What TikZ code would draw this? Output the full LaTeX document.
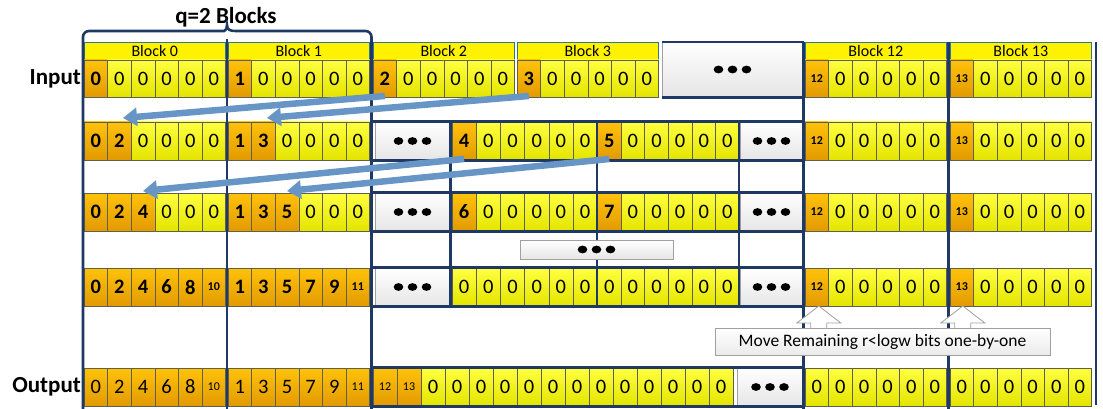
\documentclass[tikz,border=0pt]{standalone}
\usepackage{fontspec}
\setmainfont{Carlito}
\usetikzlibrary{arrows.meta,calc}
\definecolor{navy}{HTML}{1F3864}
\definecolor{cellgray}{HTML}{5F5F4F}
\definecolor{yelA}{HTML}{FFFF40}
\definecolor{yelB}{HTML}{E4E400}
\definecolor{orA}{HTML}{FFC20A}
\definecolor{orB}{HTML}{E29A00}
\definecolor{hdrline}{HTML}{2E7896}
\definecolor{arrowblue}{HTML}{6795C6}
\definecolor{boxgray}{HTML}{A0A0A0}
\newcommand\cellfont{\fontsize{20.5}{20.5}\selectfont}
\newcommand\smallcellfont{\fontsize{12}{12}\selectfont}
\newcommand\cellgroup[6]{%
  \foreach \kind/\val [count=\i from 0] in {#6} {
    \node[\kind, minimum height=#4, minimum width=#5] (#1-\i) at ({#2+(\i+0.5)*#5},{#3+#4/2}) {\val};
  }}
\newcommand\threedots[1]{%
  \foreach \dx in {-14,0,14} \fill ([xshift=\dx pt]#1.center) ellipse [x radius=4.8pt, y radius=3.9pt];}
\tikzset{
  cell/.style={draw=cellgray, line width=0.5pt, inner sep=0pt, outer sep=0pt},
  cY/.style={cell, top color=yelA, bottom color=yelB, font=\cellfont},
  cO/.style={cell, top color=orA, bottom color=orB, font=\cellfont\bfseries},
  cS/.style={cell, top color=orA, bottom color=orB, font=\smallcellfont\bfseries},
  cN/.style={cell, top color=orA, bottom color=orB, font=\cellfont},
  cM/.style={cell, top color=orA, bottom color=orB, font=\smallcellfont},
  hdr/.style={draw=hdrline, line width=0.8pt, fill=yellow, font=\fontsize{16}{16}\selectfont, minimum height=18, minimum width=141.6, inner sep=0pt},
  dbox/.style={draw=boxgray, line width=0.5pt, top color=white, bottom color=black!10, inner sep=0pt},
  lbl/.style={font=\fontsize{23}{23}\selectfont\bfseries, inner sep=0pt},
  navyline/.style={draw=navy, line width=2.6pt},
  barrow/.style={draw=arrowblue, line width=6.5pt, -{Triangle[length=14pt,width=18pt]}},
  uparrow/.style={draw=boxgray, fill=white, line width=0.8pt},
  movebox/.style={draw=boxgray, line width=0.8pt, top color=white, bottom color=black!8, minimum width=335, minimum height=27, inner sep=0pt, font=\fontsize{17.5}{17.5}\selectfont}
}
\begin{document}
\begin{tikzpicture}[x=1pt,y=-1pt]
\useasboundingbox (0,0) rectangle (1103,409);
% labels
\node[lbl] (qlbl) at (226,17) {q=2 Blocks};
\node[lbl, anchor=east] (inlbl) at (81,79) {Input};
\node[lbl, anchor=east] (outlbl) at (81,387) {Output};
% headers
\node[hdr] (h0) at (154.8,51) {Block 0};
\node[hdr] (h1) at (298.8,51) {Block 1};
\node[hdr] (h2) at (443.8,51) {Block 2};
\node[hdr] (h3) at (587.8,51) {Block 3};
\node[hdr] (h12) at (875.8,51) {Block 12};
\node[hdr] (h13) at (1020.8,51) {Block 13};
% input row
\cellgroup{in0}{84}{60}{37}{23.6}{cO/0,cY/0,cY/0,cY/0,cY/0,cY/0}
\cellgroup{in1}{228}{60}{37}{23.6}{cO/1,cY/0,cY/0,cY/0,cY/0,cY/0}
\cellgroup{in2}{373}{60}{37}{23.6}{cO/2,cY/0,cY/0,cY/0,cY/0,cY/0}
\cellgroup{in3}{517}{60}{37}{23.6}{cO/3,cY/0,cY/0,cY/0,cY/0,cY/0}
\cellgroup{in12}{805}{60}{37}{23.6}{cS/12,cY/0,cY/0,cY/0,cY/0,cY/0}
\cellgroup{in13}{950}{60}{37}{23.6}{cS/13,cY/0,cY/0,cY/0,cY/0,cY/0}
\node[dbox, minimum width=141, minimum height=55] (ind) at (732.5,69.5) {};
\threedots{ind}
% row 2
\cellgroup{r2b0}{84}{122}{38}{23.6}{cO/0,cO/2,cY/0,cY/0,cY/0,cY/0}
\cellgroup{r2b1}{228}{122}{38}{23.6}{cO/1,cO/3,cY/0,cY/0,cY/0,cY/0}
\cellgroup{r2g4}{452}{122}{38}{24.2}{cO/4,cY/0,cY/0,cY/0,cY/0,cY/0}
\cellgroup{r2g5}{597.5}{122}{38}{23.6}{cO/5,cY/0,cY/0,cY/0,cY/0,cY/0}
\cellgroup{r2b12}{805}{122}{38}{23.6}{cS/12,cY/0,cY/0,cY/0,cY/0,cY/0}
\cellgroup{r2b13}{950}{122}{38}{23.6}{cS/13,cY/0,cY/0,cY/0,cY/0,cY/0}
\node[dbox, minimum width=75, minimum height=38] (r2d1) at (412.5,141) {};
\node[dbox, minimum width=63, minimum height=38] (r2d2) at (771.5,141) {};
\threedots{r2d1}\threedots{r2d2}
% row 3
\cellgroup{r3b0}{84}{193}{38}{23.6}{cO/0,cO/2,cO/4,cY/0,cY/0,cY/0}
\cellgroup{r3b1}{228}{193}{38}{23.6}{cO/1,cO/3,cO/5,cY/0,cY/0,cY/0}
\cellgroup{r3g6}{452}{193}{38}{24.2}{cO/6,cY/0,cY/0,cY/0,cY/0,cY/0}
\cellgroup{r3g7}{597.5}{193}{38}{23.6}{cO/7,cY/0,cY/0,cY/0,cY/0,cY/0}
\cellgroup{r3b12}{805}{193}{38}{23.6}{cS/12,cY/0,cY/0,cY/0,cY/0,cY/0}
\cellgroup{r3b13}{950}{193}{38}{23.6}{cS/13,cY/0,cY/0,cY/0,cY/0,cY/0}
\node[dbox, minimum width=75, minimum height=38] (r3d1) at (412.5,212) {};
\node[dbox, minimum width=63, minimum height=38] (r3d2) at (771.5,212) {};
\threedots{r3d1}\threedots{r3d2}
% row 4
\cellgroup{r4b0}{84}{268}{38}{23.6}{cO/0,cO/2,cO/4,cO/6,cO/8,cS/10}
\cellgroup{r4b1}{228}{268}{38}{23.6}{cO/1,cO/3,cO/5,cO/7,cO/9,cS/11}
\cellgroup{r4ga}{452}{268}{38}{24.2}{cY/0,cY/0,cY/0,cY/0,cY/0,cY/0}
\cellgroup{r4gb}{597.5}{268}{38}{23.6}{cY/0,cY/0,cY/0,cY/0,cY/0,cY/0}
\cellgroup{r4b12}{805}{268}{38}{23.6}{cS/12,cY/0,cY/0,cY/0,cY/0,cY/0}
\cellgroup{r4b13}{950}{268}{38}{23.6}{cS/13,cY/0,cY/0,cY/0,cY/0,cY/0}
\node[dbox, minimum width=75, minimum height=38] (r4d1) at (412.5,287) {};
\node[dbox, minimum width=63, minimum height=38] (r4d2) at (771.5,287) {};
\threedots{r4d1}\threedots{r4d2}
% output row
\cellgroup{ob0}{84}{368}{38}{23.6}{cN/0,cN/2,cN/4,cN/6,cN/8,cM/10}
\cellgroup{ob1}{228}{368}{38}{23.6}{cN/1,cN/3,cN/5,cN/7,cN/9,cM/11}
\cellgroup{omid}{373}{368}{38}{24}{cM/12,cM/13,cY/0,cY/0,cY/0,cY/0,cY/0,cY/0,cY/0,cY/0,cY/0,cY/0,cY/0,cY/0,cY/0}
\cellgroup{ob12}{805}{368}{38}{23.6}{cY/0,cY/0,cY/0,cY/0,cY/0,cY/0}
\cellgroup{ob13}{950}{368}{38}{23.6}{cY/0,cY/0,cY/0,cY/0,cY/0,cY/0}
\node[dbox, minimum width=66, minimum height=38] (outd) at (770,387) {};
\threedots{outd}
% navy frame
\draw[navyline] (83,409) [rounded corners=6pt] -- (83,31) -- (218,31) [sharp corners] .. controls (224,31) and (227,30) .. (227,25) .. controls (227,30) and (230,31) .. (236,31) [rounded corners=6pt] -- (371.5,31) -- (371.5,409);
\draw[navyline] (226.8,39) -- (226.8,409);
\draw[navyline] (803.5,42) -- (803.5,409);
\draw[navyline] (948.5,42) -- (948.5,409);
\draw[navyline] (1096,42) -- (1096,405);
\draw[navyline] (450.5,121) -- (450.5,307);
\draw[navyline] (739,121) -- (739,307);
\draw[navyline, line width=2pt] (597.2,121) -- (597.2,307);
\draw[navyline] (662,42) -- (803.5,42);
\draw[navyline] (662,97.5) -- (803.5,97.5);
\foreach \yy in {121.5,160.5,192.5,231.5,267.5,306.5,367.5,406.5}
  \draw[navyline] (372,\yy) -- (803.5,\yy);
% middle dots box
\node[dbox, minimum width=153, minimum height=19] (middots) at (596.5,249.5) {};
\threedots{middots}
% blue arrows
\draw[barrow] ([yshift=1pt]in2-0.south) -- ([xshift=3.6pt,yshift=4pt]r2b0-1.north);
\draw[barrow] ([yshift=1pt]in3-0.south) -- ([xshift=3.6pt,yshift=4pt]r2b1-1.north);
\draw[barrow] ([yshift=1pt]r2g4-0.south) -- ([yshift=2pt]r3b0-2.north);
\draw[barrow] ([yshift=1pt]r2g5-0.south) -- ([yshift=2pt]r3b1-2.north);
% up arrows
\draw[uparrow] ([xshift=2pt]r4b12-0.south) -- ++(22,17) -- ++(-14,0) -- ++(0,16) -- ++(-16,0) -- ++(0,-16) -- ++(-14,0) -- cycle;
\draw[uparrow] ([xshift=1pt]r4b13-0.south) -- ++(22,17) -- ++(-14,0) -- ++(0,16) -- ++(-16,0) -- ++(0,-16) -- ++(-14,0) -- cycle;
\node[movebox] (move) at (882.5,341.5) {Move Remaining r<logw bits one-by-one};
\end{tikzpicture}
\end{document}
